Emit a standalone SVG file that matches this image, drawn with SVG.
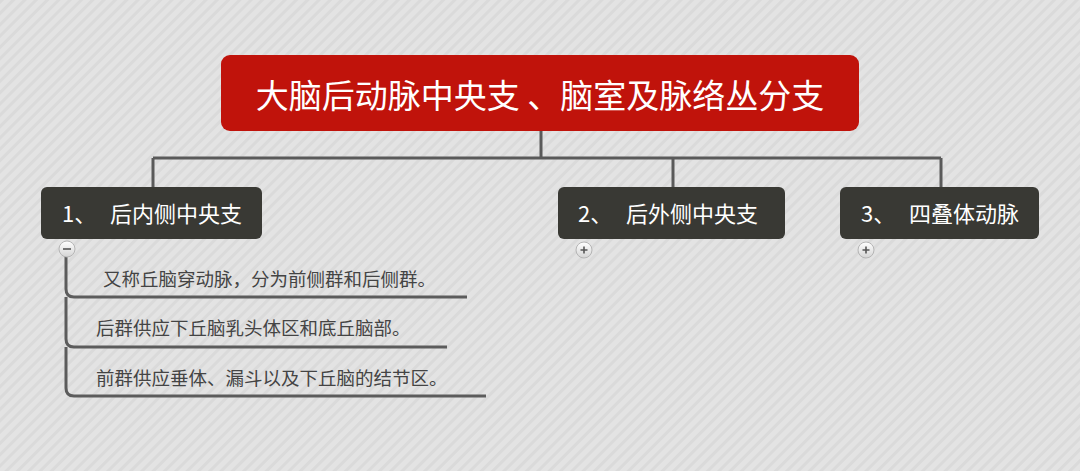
<svg xmlns="http://www.w3.org/2000/svg" width="1080" height="471" viewBox="0 0 1080 471">
<defs>
<pattern id="stripes" width="8" height="8" patternUnits="userSpaceOnUse" patternTransform="rotate(45)">
<rect width="8" height="8" fill="#e3e3e3"/>
<rect width="3" height="8" fill="#dadada"/>
</pattern>
<linearGradient id="btn" x1="0" y1="0" x2="0" y2="1">
<stop offset="0" stop-color="#ffffff"/>
<stop offset="1" stop-color="#d4d4d4"/>
</linearGradient>
</defs>
<style>
.conn{fill:none;stroke:#5a5a5a;stroke-width:3}
.sub{fill:none;stroke:#5c5c5c;stroke-width:3}
.root{fill:#c0130b}
.topic{fill:#393934}
.rt{font-family:"Noto Sans CJK SC","Noto Sans",sans-serif;font-size:33px;fill:#ffffff}
.tt{font-family:"Noto Sans CJK SC","Noto Sans",sans-serif;font-size:22px;fill:#ffffff}
.st{font-family:"Noto Sans CJK SC","Noto Sans",sans-serif;font-size:18.5px;fill:#444444}
.btn{fill:url(#btn);stroke:#b5b5b5;stroke-width:1}
.sym{stroke:#555;stroke-width:1.6}
</style>
<rect width="1080" height="471" fill="url(#stripes)"/>
<g id="connectors">
<path class="conn" d="M541 131 V158 M153 158 H941 M153 158 V187 M673 158 V187 M941 158 V187"/>
<path class="sub" d="M66 257 V289 Q66 297 74 297 H467 M66 297 V339 Q66 347 74 347 H447 M66 347 V388 Q66 396 74 396 H486"/>
</g>
<g id="root">
<rect class="root" x="221" y="55" width="638" height="76" rx="9"/>
<text class="rt" x="540" y="108" text-anchor="middle">大脑后动脉中央支 、脑室及脉络丛分支</text>
</g>
<g id="topic1">
<rect class="topic" x="41" y="187" width="221" height="52" rx="6"/>
<text class="tt" y="222"><tspan x="62">1、</tspan><tspan x="110">后内侧中央支</tspan></text>
<circle class="btn" cx="67" cy="249" r="8"/>
<path class="sym" d="M63 249 H71"/>
</g>
<g id="topic2">
<rect class="topic" x="558" y="187" width="227" height="52" rx="6"/>
<text class="tt" y="222"><tspan x="578">2、</tspan><tspan x="626">后外侧中央支</tspan></text>
<circle class="btn" cx="584" cy="250" r="8"/>
<path class="sym" d="M580.5 250 H587.5 M584 246.5 V253.5"/>
</g>
<g id="topic3">
<rect class="topic" x="840" y="187" width="199" height="52" rx="6"/>
<text class="tt" y="222"><tspan x="861">3、</tspan><tspan x="909">四叠体动脉</tspan></text>
<circle class="btn" cx="866" cy="250" r="8"/>
<path class="sym" d="M862.5 250 H869.5 M866 246.5 V253.5"/>
</g>
<g id="sub1">
<text class="st" x="103" y="286">又称丘脑穿动脉，分为前侧群和后侧群。</text>
</g>
<g id="sub2">
<text class="st" x="96" y="335">后群供应下丘脑乳头体区和底丘脑部。</text>
</g>
<g id="sub3">
<text class="st" x="96" y="385">前群供应垂体、漏斗以及下丘脑的结节区。</text>
</g>
</svg>
